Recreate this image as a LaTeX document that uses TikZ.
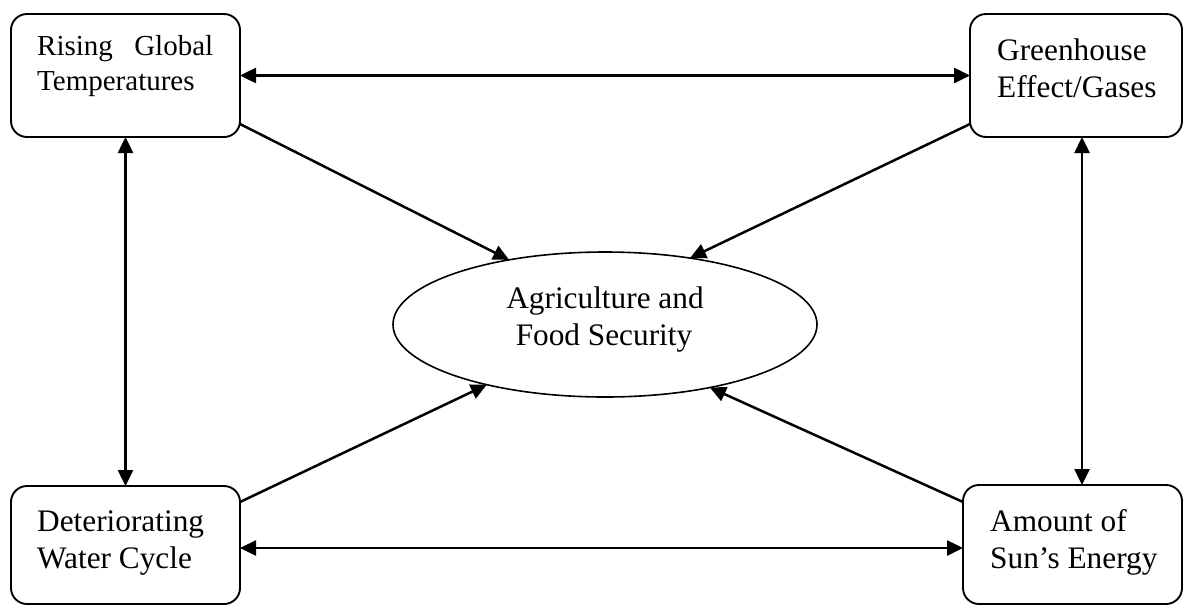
\documentclass[tikz,border=0pt]{standalone}
\usepackage{fontspec}
\setmainfont{Liberation Serif}
\usetikzlibrary{arrows.meta,shapes.geometric}
\tikzset{
  box/.style={draw, line width=1.9pt, rounded corners=16pt, inner sep=0pt, outer sep=0pt},
  ell/.style={draw, ellipse, line width=1.6pt, inner sep=0pt, outer sep=0pt, minimum width=424pt, minimum height=145pt},
  conn/.style={line width=2.5pt, -{Triangle[length=16pt,width=15pt]}},
  biconn/.style={line width=2.5pt, {Triangle[length=16pt,width=15pt]}-{Triangle[length=16pt,width=15pt]}},
  txtA/.style={anchor=base west, inner sep=0pt, font=\fontsize{29}{35}\selectfont},
  txt/.style={anchor=base west, inner sep=0pt, font=\fontsize{31.3}{37}\selectfont},
  txtc/.style={anchor=base, inner sep=0pt, font=\fontsize{31.3}{37}\selectfont},
}
\begin{document}
\begin{tikzpicture}[x=1pt,y=-1pt]
\useasboundingbox (0,0) rectangle (1185,606);
% boxes
\node[box, minimum width=229pt, minimum height=123pt] (tl) at (125.5,75.5) {};
\node[box, minimum width=212pt, minimum height=123pt] (tr) at (1076,75.5) {};
\node[box, minimum width=229pt, minimum height=118pt] (bl) at (125.5,545) {};
\node[box, minimum width=219pt, minimum height=119pt] (br) at (1072.5,544.5) {};
\node[ell] (c) at (605,324.5) {};
% texts
\node[txtA] (tl1) at (37,55) {\hbox to 176pt{Rising\hfil Global}};
\node[txtA] (tl2) at (37,90) {Temperatures};
\node[txt] (tr1) at (997,60) {Greenhouse};
\node[txt] (tr2) at (997,97) {Effect/Gases};
\node[txt] (bl1) at (37,531) {Deteriorating};
\node[txt] (bl2) at (37,568) {Water Cycle};
\node[txt] (br1) at (990,531) {Amount of};
\node[txt] (br2) at (990,568) {Sun’s Energy};
\node[txtc] (c1) at (605,308) {Agriculture and};
\node[txtc] (c2) at (604,345) {Food Security};
% connectors
\draw[biconn] (tl.east) -- (tr.west);
\draw[biconn] ([yshift=-3pt]bl.east) -- ([yshift=-3pt]bl.east -| br.west);
\draw[biconn] (tl.south) -- (tl.south |- bl.north);
\draw[biconn] ([xshift=6pt]tr.south) -- ([xshift=6pt]tr.south |- br.north);
\draw[conn] ([yshift=13pt]tl.south east) -- (c.146.5);
\draw[conn] ([yshift=13pt]tr.south west) -- (c.38.3);
\draw[conn] ([yshift=-16pt]bl.north east) -- (c.207);
\draw[conn] ([yshift=-17pt]br.north west) -- (c.329.7);
\end{tikzpicture}
\end{document}
